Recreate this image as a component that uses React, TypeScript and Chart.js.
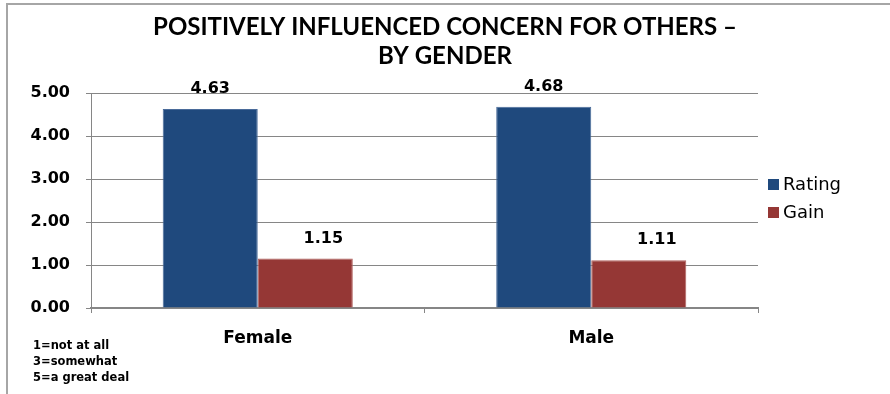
import React, { useEffect, useRef } from "react";
import { Chart, registerables } from "chart.js";

Chart.register(...registerables);

const categories = ["Female", "Male"];
const seriesNames = ["Rating", "Gain"];
const ratingValues = [4.63, 4.68];
const gainValues = [1.15, 1.11];
const yMin = 0;
const yMax = 5;
const yStep = 1;
const titleLines = ["POSITIVELY INFLUENCED CONCERN FOR OTHERS –", "BY GENDER"];
const noteLines = ["1=not at all", "3=somewhat", "5=a great deal"];
const seriesColors = ["#1F497D", "#953735"];
const seriesBorders = ["#4A6B9A", "#B0605E"];

const FONT = "'DejaVu Sans', sans-serif";

const overlayPlugin = {
  id: "overlay",
  beforeDraw(chart: any) {
    const ctx = chart.ctx;
    ctx.save();
    ctx.strokeStyle = "#A6A6A6";
    ctx.lineWidth = 2;
    ctx.beginPath();
    ctx.moveTo(7, chart.height);
    ctx.lineTo(7, 4);
    ctx.lineTo(chart.width, 4);
    ctx.stroke();
    ctx.restore();
  },
  afterDraw(chart: any) {
    const ctx = chart.ctx;
    ctx.save();
    // Title
    ctx.fillStyle = "#000";
    ctx.textAlign = "center";
    ctx.textBaseline = "middle";
    ctx.font = "bold 24px Lato, sans-serif";
    const cx = chart.width / 2;
    titleLines.forEach((line, i) => {
      ctx.fillText(line, cx, 27 + i * 29);
    });

    // Data labels
    ctx.font = `bold 16px ${FONT}`;
    chart.data.datasets.forEach((ds: any, di: number) => {
      const meta = chart.getDatasetMeta(di);
      meta.data.forEach((bar: any, j: number) => {
        const v = ds.data[j] as number;
        const off = di === 1 ? 18 : 0;
        ctx.fillText(v.toFixed(2), bar.x + off, bar.y - 20);
      });
    });

    // Legend
    ctx.textAlign = "left";
    ctx.font = `18px ${FONT}`;
    chart.data.datasets.forEach((ds: any, di: number) => {
      const y = 185 + di * 28;
      ctx.fillStyle = ds.backgroundColor;
      ctx.fillRect(768, y - 6, 11, 11);
      ctx.fillStyle = "#000";
      ctx.fillText(ds.label, 783, y);
    });

    // Notes
    ctx.font = `bold 11.5px ${FONT}`;
    noteLines.forEach((line, i) => {
      ctx.fillText(line, 33, 346 + i * 16);
    });
    ctx.restore();
  },
};

export default function App() {
  const canvasRef = useRef<HTMLCanvasElement | null>(null);

  useEffect(() => {
    const canvas = canvasRef.current;
    if (!canvas) return;
    const chart = new Chart(canvas, {
      type: "bar",
      data: {
        labels: categories,
        datasets: [
          {
            label: seriesNames[0],
            data: ratingValues,
            backgroundColor: seriesColors[0],
            borderColor: seriesBorders[0],
            borderWidth: 1,
          },
          {
            label: seriesNames[1],
            data: gainValues,
            backgroundColor: seriesColors[1],
            borderColor: seriesBorders[1],
            borderWidth: 1,
          },
        ],
      },
      options: {
        responsive: false,
        animation: false,
        devicePixelRatio: 1,
        datasets: {
          bar: { categoryPercentage: 0.57, barPercentage: 1 },
        },
        layout: { padding: { left: 0, top: 93, right: 132, bottom: 0 } },
        plugins: {
          legend: { display: false },
          title: { display: false },
          tooltip: { enabled: false },
        },
        scales: {
          x: {
            afterFit(scale: any) {
              scale.height = 86;
            },
            grid: {
              display: true,
              drawOnChartArea: false,
              drawTicks: true,
              tickLength: 5,
              color: "#868686",
              offset: true,
            },
            border: { display: true, color: "#868686", width: 2 },
            ticks: {
              color: "#000",
              padding: 15,
              font: { family: FONT, size: 17, weight: "bold" },
            },
          },
          y: {
            min: yMin,
            max: yMax,
            afterFit(scale: any) {
              scale.width = 91;
            },
            grid: {
              color: "#868686",
              lineWidth: 1,
              drawTicks: true,
              tickLength: 5,
            },
            border: { display: true, color: "#868686", width: 1 },
            ticks: {
              stepSize: yStep,
              color: "#000",
              padding: 16,
              font: { family: FONT, size: 16, weight: "bold" },
              callback: (v: any) => Number(v).toFixed(2),
            },
          },
        },
      },
      plugins: [overlayPlugin],
    });
    return () => chart.destroy();
  }, []);

  return (
    <div style={{ position: "fixed", left: 0, top: 0, width: 890, height: 394, background: "#fff" }}>
      <canvas ref={canvasRef} width={890} height={394} />
    </div>
  );
}
